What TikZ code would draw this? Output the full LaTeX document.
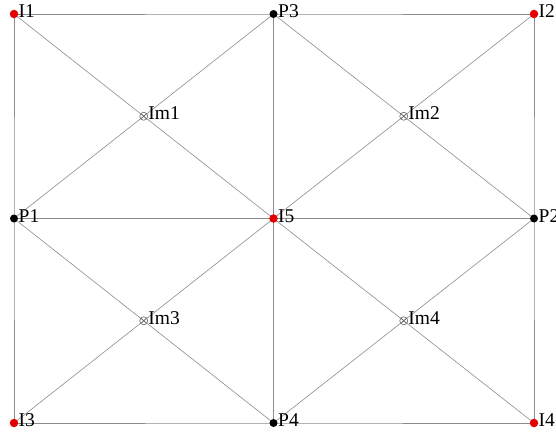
\documentclass[tikz,border=0pt]{standalone}
\usepackage{fontspec}
\setmainfont{Liberation Serif}
\begin{document}
\begin{tikzpicture}[x=1pt,y=1pt,
  edge/.style={draw=black!45,line width=0.6pt},
  dotred/.style={circle,fill=red!90!black,inner sep=0pt,minimum size=8.5pt},
  dotblack/.style={circle,fill=black,inner sep=0pt,minimum size=8pt},
  imdot/.style={circle,draw=black!60,line width=0.6pt,inner sep=0pt,minimum size=8pt,
    path picture={\draw[black!60,line width=0.6pt] (path picture bounding box.north west)--(path picture bounding box.south east) (path picture bounding box.north east)--(path picture bounding box.south west);}},
  lab/.style={font=\fontsize{19.5}{19.5}\selectfont,anchor=base west,inner sep=0pt}]
\useasboundingbox (0,0) rectangle (556,437);
% points
\coordinate (I1) at (14,423);
\coordinate (P3) at (273.5,423);
\coordinate (I2) at (534,423);
\coordinate (P1) at (14,218.5);
\coordinate (I5) at (273.5,218.5);
\coordinate (P2) at (534,218.5);
\coordinate (I3) at (14,14);
\coordinate (P4) at (273.5,14);
\coordinate (I4) at (534,14);
\coordinate (Im1) at (143.75,320.75);
\coordinate (Im2) at (403.75,320.75);
\coordinate (Im3) at (143.75,116.25);
\coordinate (Im4) at (403.75,116.25);
% edges
\draw[edge] (I1)--(P3)--(I2)--(P2)--(I4)--(P4)--(I3)--(P1)--cycle;
\draw[edge] (P1)--(I5)--(P2);
\draw[edge] (P3)--(I5)--(P4);
\draw[edge] (I1)--(Im1)--(I5);
\draw[edge] (P3)--(Im1)--(P1);
\draw[edge] (P3)--(Im2)--(P2);
\draw[edge] (I2)--(Im2)--(I5);
\draw[edge] (P1)--(Im3)--(P4);
\draw[edge] (I5)--(Im3)--(I3);
\draw[edge] (I5)--(Im4)--(I4);
\draw[edge] (P2)--(Im4)--(P4);
% markers
\foreach \n in {I1,I2,I3,I4,I5} {\node[dotred] (m\n) at (\n) {};}
\foreach \n in {P1,P2,P3,P4} {\node[dotblack] (m\n) at (\n) {};}
\foreach \n in {Im1,Im2,Im3,Im4} {\node[imdot] (m\n) at (\n) {};}
% labels
\foreach \n in {I1,I2,I3,I4,I5,P1,P2,P3,P4,Im1,Im2,Im3,Im4} {\node[lab] (l\n) at ([shift={(4.5,-3.5)}]\n) {\n};}
\end{tikzpicture}
\end{document}
